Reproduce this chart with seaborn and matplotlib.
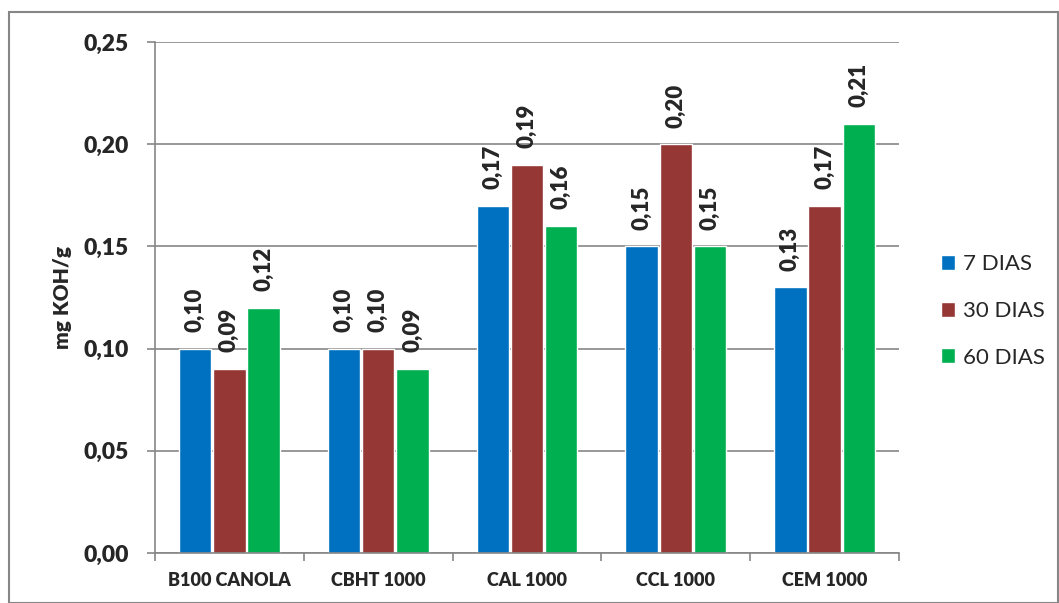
import matplotlib
matplotlib.use("Agg")
import matplotlib.pyplot as plt
import seaborn as sns
import pandas as pd
from matplotlib.patches import Rectangle
from matplotlib.ticker import FixedLocator

categories = ["B100 CANOLA", "CBHT 1000", "CAL 1000", "CCL 1000", "CEM 1000"]
series = ["7 DIAS", "30 DIAS", "60 DIAS"]
vals_7 = [0.10, 0.10, 0.17, 0.15, 0.13]
vals_30 = [0.09, 0.10, 0.19, 0.20, 0.17]
vals_60 = [0.12, 0.09, 0.16, 0.15, 0.21]
colors = ["#0070C0", "#953735", "#00B050"]
y_ticks = [0.00, 0.05, 0.10, 0.15, 0.20, 0.25]

rows = []
for s, vals in zip(series, [vals_7, vals_30, vals_60]):
    for c, v in zip(categories, vals):
        rows.append({"cat": c, "serie": s, "val": v})
df = pd.DataFrame(rows)

sns.set_theme(style="white")
plt.rcParams["font.family"] = ["Lato", "DejaVu Sans"]
BW = "heavy"

fig = plt.figure(figsize=(10.59, 6.03), dpi=100)
ax = fig.add_axes([155/1059, 50/603, (899-155)/1059, (553-42)/603])

sns.barplot(data=df, x="cat", y="val", hue="serie", palette=colors,
            width=0.69, gap=0.05, ax=ax, order=categories, hue_order=series,
            saturation=1, legend=True)

gc = "#868686"
ax.set_ylim(0, 0.25)
ax.set_xlim(-0.5, 4.5)
ax.set_yticks(y_ticks)
ax.set_yticklabels([f"{t:.2f}".replace(".", ",") for t in y_ticks],
                   fontsize=16.5, fontweight=BW)
ax.yaxis.grid(True, color=gc, linewidth=1.2)
ax.set_axisbelow(True)
for sp in ["top", "right"]:
    ax.spines[sp].set_visible(False)
for sp in ["left", "bottom"]:
    ax.spines[sp].set_color(gc)
    ax.spines[sp].set_linewidth(1.2)
ax.tick_params(axis="y", length=6, color=gc, width=1.2, pad=13, direction="out", left=True)
ax.tick_params(axis="x", which="major", length=0, pad=14, labelsize=13)
ax.xaxis.set_minor_locator(FixedLocator([-0.5, 0.5, 1.5, 2.5, 3.5, 4.5]))
ax.tick_params(axis="x", which="minor", length=6, color=gc, width=1.2, direction="out", bottom=True)
for lab in ax.get_xticklabels():
    lab.set_fontweight(BW)
ax.set_xlabel("")
ax.set_ylabel("mg KOH/g", fontsize=15, fontweight=BW, labelpad=8)

for cont in ax.containers:
    labels = [f"{b.get_height():.2f}".replace(".", ",") for b in cont]
    ax.bar_label(cont, labels=labels, rotation=90, padding=12,
                 fontsize=16, fontweight=BW)

handles, labs = ax.get_legend_handles_labels()
leg = ax.legend(handles, labs, loc="center left",
                bbox_to_anchor=(921/1059, (603-311)/603),
                bbox_transform=fig.transFigure, frameon=False, fontsize=16,
                handlelength=0.65, handleheight=0.65, handletextpad=0.35,
                labelspacing=1.2)

fig.add_artist(Rectangle((9/1059, 0), 1049/1059, 591/603, transform=fig.transFigure,
                         fill=False, edgecolor=gc, linewidth=1.5))

fig.savefig("out.png", dpi=100)
